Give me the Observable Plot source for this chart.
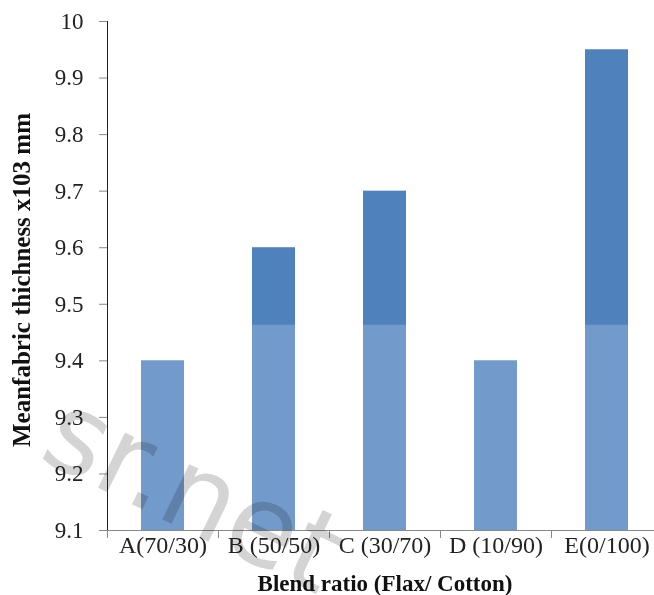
<!DOCTYPE html>
<html>
<head>
<meta charset="utf-8">
<script src="https://cdn.jsdelivr.net/npm/d3@7"></script>
<script src="https://cdn.jsdelivr.net/npm/@observablehq/plot@0.6"></script>
<style>
  body { margin: 0; background: #fff; }
  #chart svg g[aria-label^="y-axis"] line,
  #chart svg g[aria-label^="y-axis"] path { stroke: #888; }
  #chart svg g[aria-label^="x-axis"] text { font-size: 24px; }
</style>
</head>
<body>
<div id="chart"></div>
<script>
// Blend ratios (Flax / Cotton) and mean fabric thickness
const categories = ["A(70/30)", "B (50/50)", "C (30/70)", "D (10/90)", "E(0/100)"];
const thickness = [9.4, 9.6, 9.7, 9.4, 9.95];

// y axis ticks
const yTicks = [9.1, 9.2, 9.3, 9.4, 9.5, 9.6, 9.7, 9.8, 9.9, 10];
const yTickLabels = ["9.1", "9.2", "9.3", "9.4", "9.5", "9.6", "9.7", "9.8", "9.9", "10"];

// level below which the bars are washed out by the overlay
const hazeLevel = 9.463;

const yLabel = "Meanfabric thichness x103 mm";
const xLabel = "Blend ratio (Flax/ Cotton)";
const watermark = "sr.net";

const data = categories.map((c, i) => ({category: c, value: thickness[i]}));

const W = 654, H = 595;
const mL = 107, mR = -8, mT = 21, mB = 65;
const step = (W - mR - mL) / categories.length;
const pxPerUnit = (H - mT - mB) / (10 - 9.1);
const tickDrop = 8 / pxPerUnit;

const chart = Plot.plot({
  width: W,
  height: H,
  marginLeft: mL,
  marginRight: mR,
  marginTop: mT,
  marginBottom: mB,
  style: {fontFamily: "'Liberation Serif', 'Times New Roman', serif", fontSize: "23px", color: "#222", background: "#fff"},
  x: {domain: categories, paddingInner: 0.61, paddingOuter: 0.305, tickSize: 0, tickPadding: 5, label: null},
  y: {domain: [9.1, 10], ticks: yTicks, tickFormat: d => yTickLabels[yTicks.indexOf(d)], tickSize: 8, tickPadding: 16, label: null, line: true},
  marks: [
    Plot.barY(data, {x: "category", y1: 9.1, y2: "value", fill: "#4F81BD"}),
    Plot.barY(data, {x: "category", y1: 9.1, y2: d => Math.min(d.value, hazeLevel), fill: "#fff", fillOpacity: 0.2}),
    Plot.ruleY([9.1], {stroke: "#888", strokeWidth: 1}),
    Plot.ruleX(categories, {x: d => d, y1: 9.1, y2: 9.1 - tickDrop, dx: -step / 2, stroke: "#888"}),
    Plot.text([yLabel], {frameAnchor: "left", textAnchor: "middle", dx: -86, dy: 4, rotate: -90, fontWeight: "bold", fontSize: 25, fill: "#111"}),
    Plot.text([xLabel], {frameAnchor: "bottom", textAnchor: "middle", dy: 60, fontWeight: "bold", fontSize: 23, fill: "#111"}),
    Plot.text([watermark], {frameAnchor: "bottom-left", textAnchor: "middle", dx: 70, dy: -4, rotate: 26, fontSize: 112, fontFamily: "'DejaVu Sans', sans-serif", fill: "#d4d4d4", mixBlendMode: "multiply"})
  ]
});

document.getElementById("chart").appendChild(chart);
</script>
</body>
</html>
